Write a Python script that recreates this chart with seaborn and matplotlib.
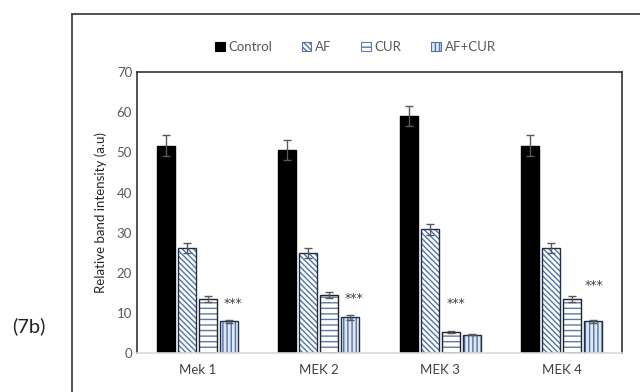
import matplotlib
matplotlib.use("Agg")
import matplotlib.pyplot as plt
from matplotlib.lines import Line2D
from matplotlib.patches import Rectangle, Patch
import pandas as pd
import seaborn as sns

# --- data ---
groups = ["Mek 1", "MEK 2", "MEK 3", "MEK 4"]
treatments = ["Control", "AF", "CUR", "AF+CUR"]
control = [51.7, 50.6, 59.0, 51.7]
af = [26.1, 24.9, 30.8, 26.1]
cur = [13.4, 14.5, 5.2, 13.4]
af_cur = [7.9, 8.9, 4.6, 7.9]
control_err = [2.6, 2.6, 2.5, 2.6]
af_err = [1.3, 1.3, 1.3, 1.3]
cur_err = [0.8, 0.7, 0.2, 0.8]
af_cur_err = [0.3, 0.6, 0.2, 0.3]
star_y = [12.4, 13.5, 12.4, 16.7]
star_dx = [0.03, 0.03, -0.13, 0.01]

plt.rcParams["font.family"] = ["Lato", "DejaVu Sans"]

df = pd.DataFrame({
    "group": groups * 4,
    "treatment": [t for t in treatments for _ in groups],
    "value": control + af + cur + af_cur,
})
errs = [control_err, af_err, cur_err, af_cur_err]

face = {"Control": "black", "AF": "white", "CUR": "white", "AF+CUR": "#dde7f3"}
hatch_color = {"Control": "black", "AF": "#4f74a8", "CUR": "#5b7ba8", "AF+CUR": "#4f74a8"}
hatches = {"Control": "", "AF": "\\" * 6, "CUR": "---", "AF+CUR": "||||"}
outline = {"Control": "black", "AF": "#1f2f4a", "CUR": "#222222", "AF+CUR": "#1f2f4a"}

fig = plt.figure(figsize=(6.4, 3.92), dpi=100)
ax = fig.add_axes([0.214, 0.0995, 0.758, 0.7165])

sns.barplot(data=df, x="group", y="value", hue="treatment", hue_order=treatments,
            order=groups, palette=face, width=0.694, gap=0.14, errorbar=None,
            legend=False, ax=ax)

for cont, t, e in zip(ax.containers, treatments, errs):
    xs, hs = [], []
    for p in cont.patches:
        p.set_hatch(hatches[t])
        p.set_edgecolor(hatch_color[t])
        p.set_linewidth(0)
        ax.add_patch(Rectangle(p.get_xy(), p.get_width(), p.get_height(), fill=False,
                               edgecolor=outline[t], lw=1.0, zorder=p.get_zorder() + 0.1))
        xs.append(p.get_x() + p.get_width() / 2)
        hs.append(p.get_height())
    ax.errorbar(xs, hs, yerr=e, fmt="none", ecolor="#595959", elinewidth=1,
                capsize=3.2, capthick=1, zorder=5)

# significance stars above the AF+CUR bars
for p, y, dx in zip(ax.containers[3].patches, star_y, star_dx):
    ax.text(p.get_x() + p.get_width() / 2 + dx, y, "***", ha="center", va="center",
            fontsize=9, color="#404040", family="DejaVu Sans")

ax.set_ylim(0, 70)
ax.set_yticks(range(0, 71, 10))
ax.set_xlim(-0.5, 3.5)
ax.set_xlabel("")
ax.set_ylabel("Relative band intensity (a.u)", fontsize=9.5, color="#262626", labelpad=7)
ax.tick_params(axis="both", length=0, labelsize=9.5, labelcolor="#595959")
ax.tick_params(axis="x", pad=8, labelcolor="#404040")
for side in ["left", "top", "right"]:
    ax.spines[side].set_color("#333333")
    ax.spines[side].set_linewidth(1.2)
ax.spines["bottom"].set_color("#d9d9d9")
ax.spines["bottom"].set_linewidth(1.2)

handles = [Patch(facecolor=face[t], edgecolor=hatch_color[t] if t != "Control" else "black",
                 hatch=hatches[t], lw=0.8) for t in treatments]
fig.legend(handles, treatments, loc="center", bbox_to_anchor=(0.555, 0.88), ncol=4,
           frameon=False, fontsize=9.5, handlelength=0.75, handleheight=0.75,
           handletextpad=0.3, columnspacing=2.2, labelcolor="#595959")

# outer frame of the panel
fig.add_artist(Line2D([72 / 640, 72 / 640], [0, 1 - 14 / 392], color="#444444", lw=1.3))
fig.add_artist(Line2D([72 / 640, 1], [1 - 14 / 392, 1 - 14 / 392], color="#444444", lw=1.3))
fig.text(29 / 640, 1 - 326 / 392, "(7b)", ha="center", va="center", fontsize=14.5, color="#222222")

fig.savefig("out.png", dpi=100)
